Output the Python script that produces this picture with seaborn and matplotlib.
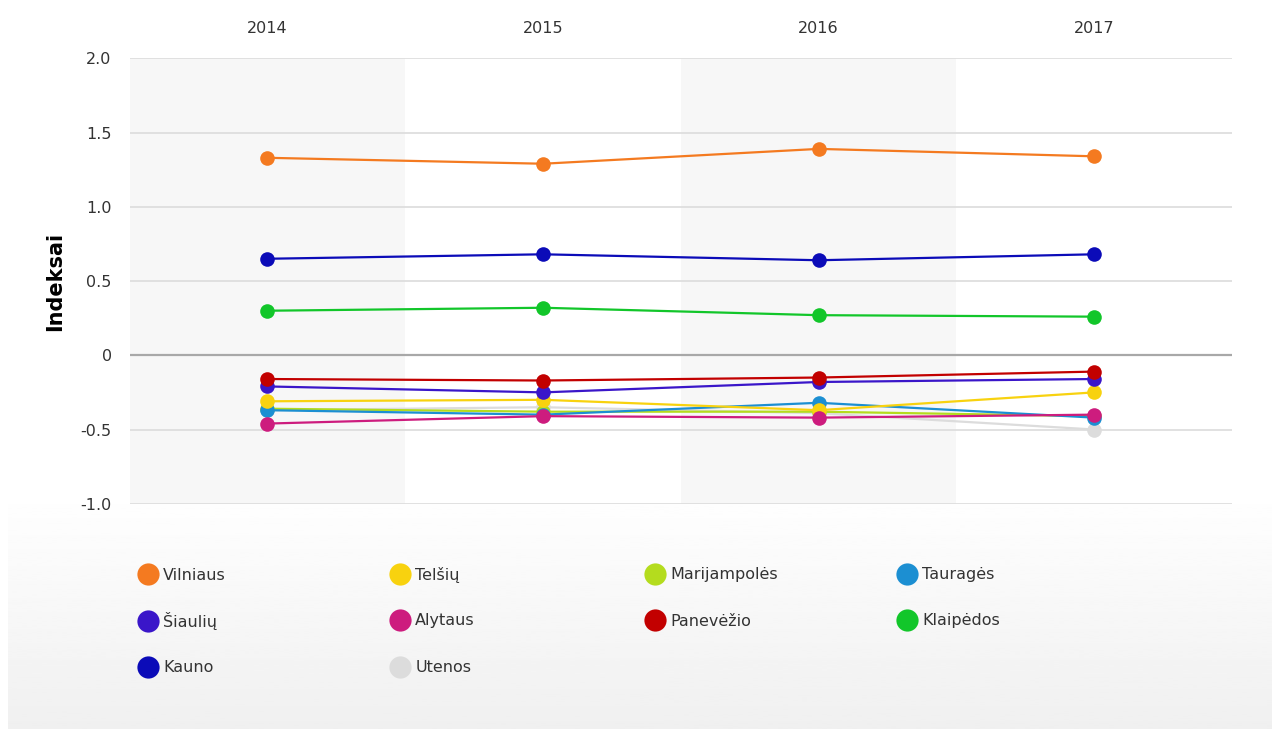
import numpy as np
import pandas as pd
import seaborn as sns
import matplotlib.pyplot as plt
from matplotlib.lines import Line2D

# data
years = [2014, 2015, 2016, 2017]
regions = ['Vilniaus', 'Šiaulių', 'Kauno', 'Telšių', 'Alytaus', 'Utenos',
           'Marijampolės', 'Panevėžio', 'Tauragės', 'Klaipėdos']
vilniaus = [1.33, 1.29, 1.39, 1.34]
siauliu = [-0.21, -0.25, -0.18, -0.16]
kauno = [0.65, 0.68, 0.64, 0.68]
telsiu = [-0.31, -0.30, -0.37, -0.25]
alytaus = [-0.46, -0.41, -0.42, -0.40]
utenos = [-0.37, -0.35, -0.39, -0.50]
marijampoles = [-0.36, -0.38, -0.38, -0.41]
panevezio = [-0.16, -0.17, -0.15, -0.11]
taurages = [-0.37, -0.40, -0.32, -0.42]
klaipedos = [0.30, 0.32, 0.27, 0.26]
yticks = [-1.0, -0.5, 0, 0.5, 1.0, 1.5, 2.0]
ytick_labels = ['-1.0', '-0.5', '0', '0.5', '1.0', '1.5', '2.0']

colors = {
    'Vilniaus': '#f47a20', 'Šiaulių': '#3a16c9', 'Kauno': '#0b0bb8',
    'Telšių': '#f8d20f', 'Alytaus': '#cd1c7e', 'Utenos': '#dcdcdc',
    'Marijampolės': '#b4dc1e', 'Panevėžio': '#c20000', 'Tauragės': '#1c8fd2',
    'Klaipėdos': '#12c62a',
}

series = [vilniaus, siauliu, kauno, telsiu, alytaus, utenos,
          marijampoles, panevezio, taurages, klaipedos]
df = pd.DataFrame({
    'year': years * len(regions),
    'value': np.concatenate(series),
    'region': np.repeat(regions, len(years)),
})

sns.set_style('white')
plt.rcParams['font.family'] = ['DejaVu Sans']

fig = plt.figure(figsize=(12.84, 7.29), dpi=100)

# grey gradient behind the legend area
bg = fig.add_axes([0.006, 0.0, 0.984, 0.33], zorder=-10)
grad = np.linspace(1.0, 0.94, 100).reshape(-1, 1)
bg.imshow(grad, aspect='auto', cmap='gray', vmin=0, vmax=1, extent=[0, 1, 0, 1])
bg.axis('off')

ax = fig.add_axes([0.101, 0.309, 0.8585, 0.611])
ax.set_facecolor('white')
for x0 in [2013.5, 2015.5]:
    ax.axvspan(x0, x0 + 1, color='#f7f7f7', zorder=0, lw=0)

for y in yticks:
    if y == 0:
        ax.axhline(y, color='#a8a8a8', lw=1.6, zorder=1)
    else:
        ax.axhline(y, color='#dedede', lw=1.3, zorder=1)

draw_order = ['Utenos', 'Marijampolės', 'Tauragės', 'Telšių', 'Alytaus',
              'Šiaulių', 'Panevėžio', 'Klaipėdos', 'Kauno', 'Vilniaus']
sns.lineplot(data=df, x='year', y='value', hue='region', hue_order=draw_order,
             palette=colors, marker='o', markersize=10.5, markeredgewidth=0,
             lw=1.6, legend=False, ax=ax, zorder=3)

ax.set_xlim(2013.5, 2017.5)
ax.set_ylim(-1.0, 2.0)
ax.xaxis.tick_top()
ax.set_xticks(years)
ax.set_xticklabels([str(y) for y in years], fontsize=11.5, color='#333333')
ax.set_yticks(yticks)
ax.set_yticklabels(ytick_labels, fontsize=11.5, color='#333333')
ax.tick_params(axis='x', length=0, pad=16)
ax.tick_params(axis='y', length=0, pad=13)
ax.set_xlabel('')
ax.set_ylabel('Indeksai', fontsize=15, fontweight='bold', color='black',
              labelpad=11)
for s in ax.spines.values():
    s.set_visible(False)

# legend: 4 columns x 3 rows, filled row by row
col_x = [141.6, 393.6, 648.6, 900.6]
row_y = [575, 621, 668]
order = ['Vilniaus', 'Telšių', 'Marijampolės', 'Tauragės',
         'Šiaulių', 'Alytaus', 'Panevėžio', 'Klaipėdos',
         'Kauno', 'Utenos']
for i, r in enumerate(order):
    h = Line2D([], [], ls='none', marker='o', markersize=16,
               markerfacecolor=colors[r], markeredgewidth=0, label=r)
    fig.legend(handles=[h], loc='center left',
               bbox_to_anchor=(col_x[i % 4] / 1284, 1 - row_y[i // 4] / 729),
               frameon=False, fontsize=11.5, handlelength=0.8,
               handletextpad=0.55, borderpad=0, borderaxespad=0,
               labelcolor='#333333')

fig.savefig('out.png', dpi=100)
